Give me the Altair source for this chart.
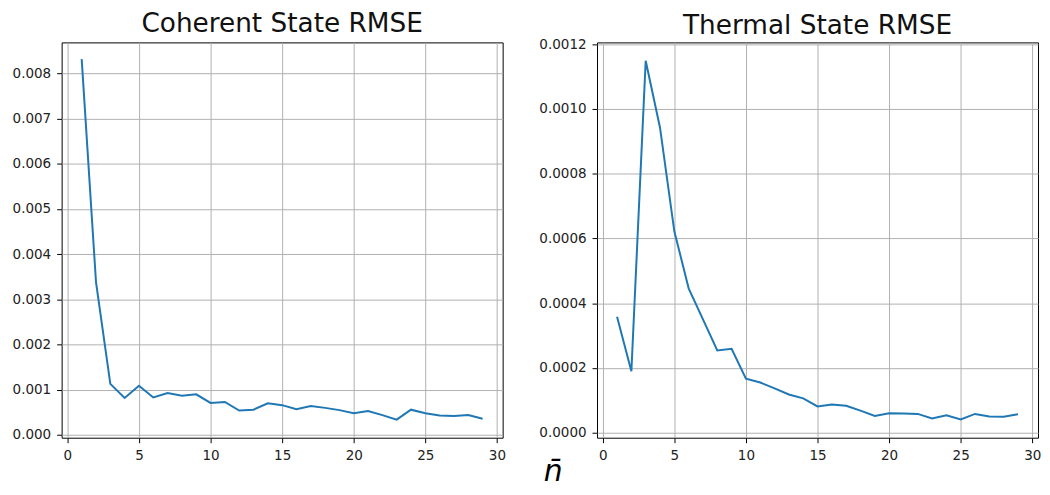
import altair as alt
import pandas as pd

n_vals = list(range(1, 30))
coherent_rmse = [0.00831, 0.00338, 0.00113, 0.00082, 0.00109, 0.00083, 0.00093, 0.00087, 0.00090,
                 0.00071, 0.00073, 0.00054, 0.00056, 0.00070, 0.00066, 0.00057, 0.00064, 0.00060,
                 0.00055, 0.00048, 0.00053, 0.00044, 0.00034, 0.00056, 0.00048, 0.00043, 0.00042,
                 0.00044, 0.00036]
thermal_rmse = [0.000358, 0.000190, 0.001149, 0.000942, 0.000622, 0.000446, 0.000350, 0.000254,
                0.000259, 0.000167, 0.000155, 0.000137, 0.000118, 0.000106, 0.000081, 0.000087,
                0.000083, 0.000068, 0.000052, 0.000060, 0.000059, 0.000058, 0.000044, 0.000054,
                0.000041, 0.000058, 0.000050, 0.000049, 0.000057]

x_ticks = [0, 5, 10, 15, 20, 25, 30]
coh_ticks = [0.000, 0.001, 0.002, 0.003, 0.004, 0.005, 0.006, 0.007, 0.008]
th_ticks = [0.0, 0.0002, 0.0004, 0.0006, 0.0008, 0.0010, 0.0012]

df_c = pd.DataFrame({"n": n_vals, "rmse": coherent_rmse})
df_t = pd.DataFrame({"n": n_vals, "rmse": thermal_rmse})

FONT = "DejaVu Sans"
W, H = 444, 398


def panel(df, title, ydomain, yticks, yfmt, toff):
    return alt.Chart(df).mark_line(color="#1f77b4", strokeWidth=2).encode(
        x=alt.X("n:Q", scale=alt.Scale(domain=[-0.4, 30.4], nice=False, zero=False),
                axis=alt.Axis(values=x_ticks, title=None, format="d")),
        y=alt.Y("rmse:Q", scale=alt.Scale(domain=ydomain, nice=False, zero=False),
                axis=alt.Axis(values=yticks, title=None, format=yfmt)),
    ).properties(
        width=W, height=H,
        title=alt.TitleParams(title, fontSize=26.5, font=FONT, fontWeight="normal",
                              color="#111111", offset=toff),
    )


left = panel(df_c, "Coherent State RMSE", [-0.00006, 0.00868], coh_ticks, ".3f", 5)
right = panel(df_t, "Thermal State RMSE", [-0.0000155, 0.0012055], th_ticks, ".4f", -2)

chart = alt.hconcat(left, right, spacing=31).properties(
    title=alt.TitleParams("n\u0304", orient="bottom", anchor="middle", fontSize=30,
                          font=FONT, fontStyle="italic", fontWeight="normal",
                          baseline="alphabetic", color="#000000", offset=18, dx=27),
    padding={"left": 3, "right": 0, "top": 1, "bottom": 0},
    background="white",
).configure_view(
    stroke="#000000", strokeWidth=1
).configure_axis(
    grid=True, gridColor="#b0b0b0", gridWidth=1,
    domain=False, ticks=True, tickColor="#000000", tickSize=5, tickWidth=1,
    labelFont=FONT, labelFontSize=13.6, labelColor="#222222", labelPadding=6,
)

chart.save("out.html", embed_options={"renderer": "svg", "actions": False})
